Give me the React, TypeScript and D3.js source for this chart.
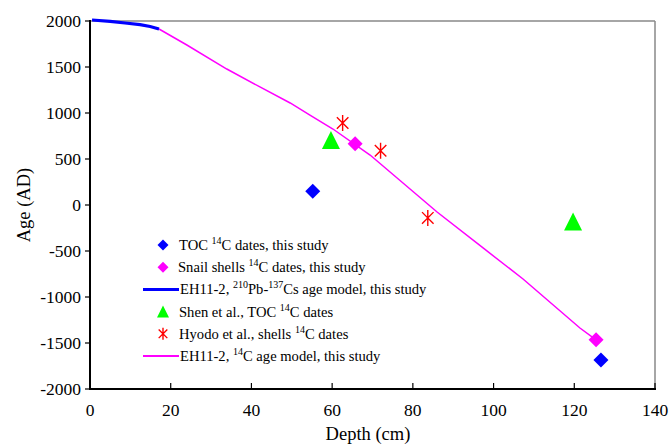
import React from "react";
import * as d3 from "d3";

const W = 670, H = 446;

const xTicks = [0, 20, 40, 60, 80, 100, 120, 140];
const yTicks = [-2000, -1500, -1000, -500, 0, 500, 1000, 1500, 2000];

const tocDates: [number, number][] = [[55.2, 150], [126.6, -1685]];
const snailDates: [number, number][] = [[65.7, 665], [125.4, -1465]];
const shenDates: [number, number][] = [[59.7, 706], [119.7, -180]];
const hyodoDates: [number, number][] = [[62.6, 892], [72.0, 590], [83.7, -140]];

const pbModel: [number, number][] = [
  [0.5, 2011], [5, 1995], [8.7, 1978], [12.4, 1960], [14.9, 1940], [17.1, 1913],
];
const c14Model: [number, number][] = [
  [17.1, 1913], [24.0, 1739], [33.9, 1478], [42.1, 1283], [49.6, 1109],
  [54.5, 978], [60.2, 826], [69.4, 543], [86.0, -76], [97.4, -467],
  [107.3, -804], [121.4, -1337], [125.4, -1467],
];

const FS = { fontFamily: '"Liberation Serif"' };

const x = d3.scaleLinear().domain([0, 140]).range([90, 655]);
const y = d3.scaleLinear().domain([-2000, 2000]).range([389, 21]);

const line = d3.line<[number, number]>().x(d => x(d[0])).y(d => y(d[1]));

function Diamond({ cx, cy, r, fill }: { cx: number; cy: number; r: number; fill: string }) {
  return <path d={`M${cx},${cy - r}L${cx + r},${cy}L${cx},${cy + r}L${cx - r},${cy}Z`} fill={fill} />;
}
function Tri({ cx, cy, r, fill }: { cx: number; cy: number; r: number; fill: string }) {
  return <path d={`M${cx},${cy - r}L${cx + r},${cy + r}L${cx - r},${cy + r}Z`} fill={fill} />;
}
function Star({ cx, cy, r }: { cx: number; cy: number; r: number }) {
  const d = r * 0.72;
  return (
    <path
      d={`M${cx},${cy - r}L${cx},${cy + r}M${cx - d},${cy - d}L${cx + d},${cy + d}M${cx - d},${cy + d}L${cx + d},${cy - d}`}
      stroke="#ff0000" strokeWidth={1.4} fill="none"
    />
  );
}

function Sup({ children }: { children: React.ReactNode }) {
  return <tspan dy={-6} fontSize={10}>{children}</tspan>;
}

export default function App() {
  const lx = 163, ly0 = 245, ldy = 22.2, tx = 180;
  const rows = [0, 1, 2, 3, 4, 5].map(i => ly0 + i * ldy);
  return (
    <svg width={W} height={H} style={{ position: "absolute", left: 0, top: 0, background: "#fff" }}>
      <rect width={W} height={H} fill="#fff" />
      {/* frame */}
      <line x1={x(0)} x2={x(140)} y1={y(2000)} y2={y(2000)} stroke="#888" strokeWidth={1.5} />
      <line x1={x(140)} x2={x(140)} y1={y(2000)} y2={y(-2000)} stroke="#888" strokeWidth={1.5} />
      {/* lines */}
      <path d={line(c14Model) || ""} stroke="#ff00ff" strokeWidth={1.5} fill="none" />
      <path d={line(pbModel) || ""} stroke="#0000ff" strokeWidth={3.2} fill="none" />
      {/* points */}
      {tocDates.map((d, i) => <Diamond key={"t" + i} cx={x(d[0])} cy={y(d[1])} r={7.5} fill="#0000ff" />)}
      {snailDates.map((d, i) => <Diamond key={"s" + i} cx={x(d[0])} cy={y(d[1])} r={7.5} fill="#ff00ff" />)}
      {shenDates.map((d, i) => <Tri key={"g" + i} cx={x(d[0])} cy={y(d[1])} r={9} fill="#00ff00" />)}
      {hyodoDates.map((d, i) => <Star key={"h" + i} cx={x(d[0])} cy={y(d[1])} r={8} />)}
      {/* axes */}
      <line x1={x(0)} x2={x(0)} y1={y(2000) - 1} y2={y(-2000) + 1} stroke="#000" strokeWidth={2} />
      <line x1={x(0) - 1} x2={x(140) + 1} y1={y(-2000)} y2={y(-2000)} stroke="#000" strokeWidth={2} />
      {yTicks.map(t => (
        <g key={"yt" + t}>
          <line x1={x(0) - 5} x2={x(0)} y1={y(t)} y2={y(t)} stroke="#000" strokeWidth={1.2} />
          <text x={x(0) - 9} y={y(t)} dy="0.35em" textAnchor="end" fontSize={17.5} style={FS}>{t}</text>
        </g>
      ))}
      {xTicks.map(t => (
        <g key={"xt" + t}>
          <line x1={x(t)} x2={x(t)} y1={y(-2000)} y2={y(-2000) - 6} stroke="#000" strokeWidth={1.2} />
          <text x={x(t)} y={y(-2000) + 27} textAnchor="middle" fontSize={17.5} style={FS}>{t}</text>
        </g>
      ))}
      <text x={368} y={440} textAnchor="middle" fontSize={18.5} style={FS}>Depth (cm)</text>
      <text transform={`translate(30,${y(0)}) rotate(-90)`} textAnchor="middle" fontSize={18.5} style={FS}>Age (AD)</text>
      {/* legend */}
      <Diamond cx={lx} cy={rows[0]} r={5.5} fill="#0000ff" />
      <Diamond cx={lx} cy={rows[1]} r={5.5} fill="#ff00ff" />
      <line x1={143} x2={179} y1={rows[2]} y2={rows[2]} stroke="#0000ff" strokeWidth={3} />
      <Tri cx={lx} cy={rows[3]} r={6} fill="#00ff00" />
      <Star cx={lx} cy={rows[4]} r={6} />
      <line x1={143} x2={179} y1={rows[5]} y2={rows[5]} stroke="#ff00ff" strokeWidth={2} />
      <g fontSize={14.6}>
        <text x={tx - 1} y={rows[0] + 5} style={FS}>TOC <Sup>14</Sup><tspan dy={6}>C dates, this study</tspan></text>
        <text x={tx - 2} y={rows[1] + 5} style={FS}>Snail shells <Sup>14</Sup><tspan dy={6}>C dates, this study</tspan></text>
        <text x={tx} y={rows[2] + 5} style={FS}>EH11-2, <Sup>210</Sup><tspan dy={6}>Pb-</tspan><Sup>137</Sup><tspan dy={6}>Cs age model, this study</tspan></text>
        <text x={tx - 1} y={rows[3] + 5} style={FS}>Shen et al., TOC <Sup>14</Sup><tspan dy={6}>C dates</tspan></text>
        <text x={tx - 1} y={rows[4] + 5} style={FS}>Hyodo et al., shells <Sup>14</Sup><tspan dy={6}>C dates</tspan></text>
        <text x={tx} y={rows[5] + 5} style={FS}>EH11-2, <Sup>14</Sup><tspan dy={6}>C age model, this study</tspan></text>
      </g>
    </svg>
  );
}
